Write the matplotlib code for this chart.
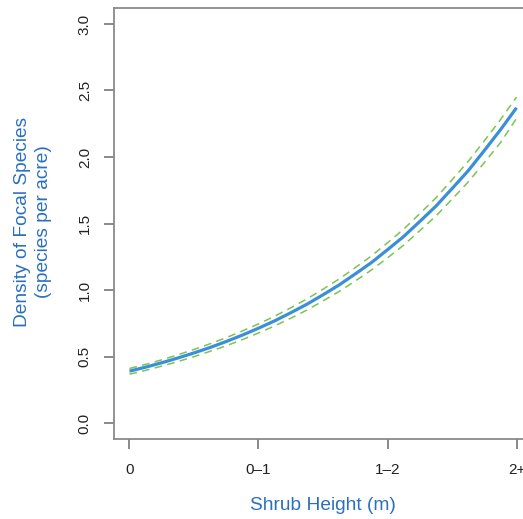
import matplotlib.pyplot as plt
import numpy as np

# values (x = 0 .. 3 in steps of 0.125)
x_pos = [0, 0.125, 0.25, 0.375, 0.5, 0.625, 0.75, 0.875, 1, 1.125, 1.25, 1.375, 1.5,
         1.625, 1.75, 1.875, 2, 2.125, 2.25, 2.375, 2.5, 2.625, 2.75, 2.875, 3]
density = [0.39, 0.42, 0.453, 0.489, 0.527, 0.568, 0.613, 0.661, 0.713, 0.768, 0.829,
           0.893, 0.964, 1.038, 1.121, 1.206, 1.303, 1.402, 1.515, 1.63, 1.762, 1.896,
           2.048, 2.204, 2.37]
upper = [0.41, 0.441, 0.475, 0.513, 0.553, 0.596, 0.642, 0.692, 0.745, 0.803, 0.866,
         0.933, 1.006, 1.083, 1.168, 1.256, 1.355, 1.457, 1.574, 1.692, 1.828, 1.966,
         2.121, 2.28, 2.45]
lower = [0.367, 0.396, 0.428, 0.462, 0.499, 0.539, 0.581, 0.627, 0.677, 0.73, 0.788,
         0.849, 0.918, 0.989, 1.068, 1.15, 1.242, 1.337, 1.446, 1.556, 1.682, 1.812,
         1.957, 2.107, 2.29]
tick_pos = [0, 1, 2, 3]
tick_labels = ['0', '0\u20131', '1\u20132', '2+']

plt.rcParams['font.family'] = ['Liberation Sans', 'DejaVu Sans']

fig = plt.figure(figsize=(5.23, 5.19), dpi=100)
ax = fig.add_axes([114/523, 80/519, 418/523, 431/519])

ax.plot(x_pos, upper, color='#7cc44e', lw=1.1, ls=(0, (5, 3.5)))
ax.plot(x_pos, lower, color='#7cc44e', lw=1.1, ls=(0, (5, 3.5)))
ax.plot(x_pos, density, color='#3a8fd8', lw=2.3, solid_capstyle='butt')

ax.set_xlim(-0.12, 3.12)
ax.set_ylim(-0.12, 3.12)

for s in ax.spines.values():
    s.set_color('#8a8a8a')
    s.set_linewidth(1.3)

ax.set_xticks(tick_pos)
ax.set_xticklabels(tick_labels)
ax.set_yticks([0, 0.5, 1, 1.5, 2, 2.5, 3])
ax.set_yticklabels(['0.0', '0.5', '1.0', '1.5', '2.0', '2.5', '3.0'],
                   rotation=90, va='center')
ax.tick_params(axis='both', direction='out', length=7, width=1.1,
               color='#6a6a6a', labelsize=11, labelcolor='#222222')
ax.tick_params(axis='x', pad=10)
ax.tick_params(axis='y', pad=9)

fig.text(33/523, 1 - 222/519, 'Density of Focal Species\n(species per acre)',
         rotation=90, ha='center', va='center', fontsize=13.8,
         color='#2a6fc0', linespacing=1.25)
fig.text(323/523, 1 - 505/519, 'Shrub Height (m)', ha='center', va='center',
         fontsize=13.8, color='#2a6fc0')

fig.savefig('out.png', dpi=100)
